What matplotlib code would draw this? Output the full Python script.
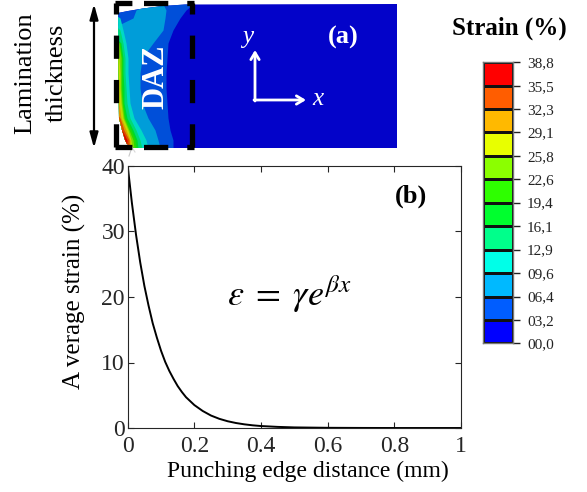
import numpy as np
import matplotlib
matplotlib.use("Agg")
import matplotlib.pyplot as plt
from matplotlib.colors import ListedColormap, BoundaryNorm
from matplotlib.patches import Polygon

plt.rcParams['font.family'] = ['Liberation Serif', 'DejaVu Serif']
plt.rcParams['mathtext.fontset'] = 'stix'

# ---- (b) average strain vs distance from punching edge
dist = [0, 0.0125, 0.025, 0.0375, 0.05, 0.0625, 0.075, 0.0875, 0.1, 0.1125,
        0.125, 0.1375, 0.15, 0.1625, 0.175, 0.1875, 0.2, 0.225, 0.25, 0.275,
        0.3, 0.325, 0.35, 0.375, 0.4, 0.45, 0.5, 0.6, 0.7, 0.8, 0.9, 1.0]
strain = [40, 34.4, 29.5, 25.3, 21.7, 18.7, 16.0, 13.8, 11.8, 10.1,
          8.7, 7.5, 6.4, 5.5, 4.7, 4.1, 3.5, 2.6, 1.9, 1.4,
          1.03, 0.76, 0.56, 0.41, 0.30, 0.17, 0.09, 0.03, 0.01, 0.0, 0.0, 0.0]

# ---- colour scale (Abaqus style)
levels = [0, 3.2, 6.4, 9.6, 12.9, 16.1, 19.4, 22.6, 25.8, 29.1, 32.3, 35.5, 38.8]
level_labels = ["00,0", "03,2", "06,4", "09,6", "12,9", "16,1", "19,4",
                "22,6", "25,8", "29,1", "32,3", "35,5", "38,8"]
band_colors = ["#0000ff", "#005dff", "#00b9ff", "#00ffe8", "#00ff8b", "#00ff2e",
               "#2eff00", "#8bff00", "#e8ff00", "#ffb900", "#ff5d00", "#ff0000"]

# ---- (a) contour bands of the FE cut edge: rows (px from top) and band reach (px from edge)
rows = [4, 10, 18, 30, 43, 58, 73, 88, 103, 118, 130, 140, 148]
band_left = {2: [30, 18, 15, 0, 0, 0, 0, 0, 0, 0, 0, 0, 0]}
band_right = {
    1: [75, 68, 62, 55, 50, 49, 48, 48, 49, 50, 52, 55, 55],
    2: [45, 48, 47, 45, 35, 24, 22, 22, 24, 30, 37, 40, 42],
    3: [0, 0, 2, 5, 8, 10, 10, 11, 12, 16, 23, 28, 30],
    4: [0, 0, 0, 2, 5, 7, 7, 8, 9, 12, 18, 22, 24],
    5: [0, 0, 0, 0, 3, 5, 5, 6, 6, 9, 15, 19, 20],
    6: [0, 0, 0, 0, 2, 4, 4, 4, 5, 7, 13, 17, 18],
    7: [0, 0, 0, 0, 1, 3, 3, 3, 4, 6, 11, 15, 16],
    8: [0, 0, 0, 0, 0, 1, 2, 2, 3, 5, 10, 13, 14],
    9: [0, 0, 0, 0, 0, 0, 0, 0, 1, 3, 8, 12, 12],
    10: [0, 0, 0, 0, 0, 0, 0, 0, 0, 2, 6, 11, 11],
    11: [0, 0, 0, 0, 0, 0, 0, 0, 0, 0, 4, 9, 9],
}
part_outline = [(118, 13), (128, 11), (143, 8.5), (163, 6), (185, 4.5), (397, 4),
                (397, 148), (135, 148), (128, 146), (125, 140), (122, 130),
                (119, 118), (118, 13)]
edge_x = 118
daz_box = (116, 192, 3, 147)   # left, right, top, bottom (px)

fig = plt.figure(figsize=(5.87, 4.92), dpi=100)

# ---------------- (b) plot
ax = fig.add_axes([127.7 / 587, 1 - 428 / 492, 333.3 / 587, 262 / 492])
ax.plot(dist, strain, color='k', lw=1.4)
ax.set_xlim(0, 1)
ax.set_ylim(0, 40)
ax.set_xticks([0, 0.2, 0.4, 0.6, 0.8, 1])
ax.set_xticklabels(["0", "0.2", "0.4", "0.6", "0.8", "1"])
ax.set_yticks([0, 10, 20, 30, 40])
ax.tick_params(direction='in', top=True, right=True, length=4, width=0.8,
               labelsize=17, colors='#262626')
ax.tick_params(axis='y', pad=2)
ax.tick_params(axis='x', pad=6)
for s in ax.spines.values():
    s.set_color('#262626')
    s.set_linewidth(0.8)
ax.set_xlabel("Punching edge distance (mm)", fontsize=17)
ax.set_ylabel("A verage strain (%)", fontsize=18)
ax.xaxis.set_label_coords(0.54, -0.125)
ax.yaxis.set_label_coords(-0.125, 0.52)
ax.text(0.85, 0.885, "(b)", transform=ax.transAxes, fontsize=19, fontweight='bold',
        ha='center', va='center')
ax.text(0.485, 0.51, r"$\varepsilon\;=\;\gamma e^{\beta x}$", transform=ax.transAxes,
        fontsize=26, ha='center', va='center')

# ---------------- colour bar
cax = fig.add_axes([483 / 587, 1 - 343 / 492, 30 / 587, 281 / 492])
cmap = ListedColormap(band_colors)
norm = BoundaryNorm(levels, cmap.N)
mids = [(levels[i] + levels[i + 1]) / 2 for i in range(len(levels) - 1)]
cax.pcolormesh([0, 1], levels, np.array(mids).reshape(-1, 1), cmap=cmap, norm=norm,
               edgecolors='#111111', linewidth=0.8)
cax.set_xlim(0, 1)
cax.set_ylim(levels[0], levels[-1])
cax.set_xticks([])
cax.yaxis.tick_right()
cax.set_yticks(levels)
cax.set_yticklabels(level_labels)
cax.tick_params(axis='y', direction='out', length=5, width=1, colors='#222222',
                pad=5, labelsize=11)
for s in cax.spines.values():
    s.set_color('#777777')
    s.set_linewidth(1)

# ---------------- (a) overlay in pixel coordinates
ov = fig.add_axes([0, 0, 1, 1])
ov.set_xlim(0, 587)
ov.set_ylim(492, 0)
ov.set_axis_off()

part = Polygon(part_outline, closed=True, facecolor='#0303c9', edgecolor='none', zorder=1)
ov.add_patch(part)
clip = Polygon(part_outline, closed=True, transform=ov.transData)
for k in range(1, 12):
    c = np.array(matplotlib.colors.to_rgb(band_colors[k])) * 0.85
    left = np.array(band_left.get(k, [-10] * len(rows)), dtype=float)
    left[left == 0] = -10
    right = np.array(band_right[k], dtype=float)
    has = right > 0
    poly = ov.fill_betweenx(rows, edge_x + left, edge_x + right, where=has,
                            interpolate=True, color=c, lw=0, zorder=2 + k)
    poly.set_clip_path(clip)

# burr traces at the cut edge
ov.plot([127, 131, 129], [145, 150, 156], color='#c8c8c8', lw=0.8, zorder=15)
ov.plot([131, 135], [146, 152], color='#d8d8d8', lw=0.8, zorder=15)

# DAZ dashed box, one side at a time
bl, br, bt, bb = daz_box
dash_kw = dict(color='k', lw=3.8, solid_capstyle='butt', dash_capstyle='butt', zorder=20)
for xs in (bl, br):
    ov.plot([xs, xs], [bb, bt], dashes=(4.4, 4.0), **dash_kw)
for ys in (bt, bb):
    ov.plot([bl - 1.5, br + 1.5], [ys, ys], dashes=(3.2, 2.2, 4.6, 3.6, 2.0, 9), **dash_kw)
ov.text(156, 77, "DAZ", rotation=90, color='white', fontsize=22, fontweight='bold',
        ha='center', va='center', zorder=21)

# lamination thickness arrow + label
ov.annotate('', xy=(94, 4), xytext=(94, 148),
            arrowprops=dict(arrowstyle='<|-|>,head_width=0.25,head_length=0.9',
                            lw=1.6, color='k', shrinkA=0, shrinkB=0))
ov.text(25, 73, "Lamination", rotation=90, fontsize=19, ha='center', va='center')
ov.text(57, 73, "thickness", rotation=90, fontsize=19, ha='center', va='center')

# coordinate arrows
ov.annotate('', xy=(255, 50), xytext=(255, 101),
            arrowprops=dict(arrowstyle='->,head_width=0.3,head_length=0.5',
                            lw=2, color='white', shrinkA=0, shrinkB=0), zorder=22)
ov.annotate('', xy=(306, 100), xytext=(254, 100),
            arrowprops=dict(arrowstyle='->,head_width=0.3,head_length=0.5',
                            lw=2, color='white', shrinkA=0, shrinkB=0), zorder=22)
ov.text(248, 37, "y", color='white', fontsize=18, style='italic', ha='center',
        va='center', zorder=22)
ov.text(318, 99, "x", color='white', fontsize=18, style='italic', ha='center',
        va='center', zorder=22)
ov.text(343, 37, "(a)", color='white', fontsize=19, fontweight='bold', ha='center',
        va='center', zorder=22)

ov.text(509, 28, "Strain (%)", fontsize=18, fontweight='bold', ha='center', va='center')

fig.savefig("out.png", dpi=100)
